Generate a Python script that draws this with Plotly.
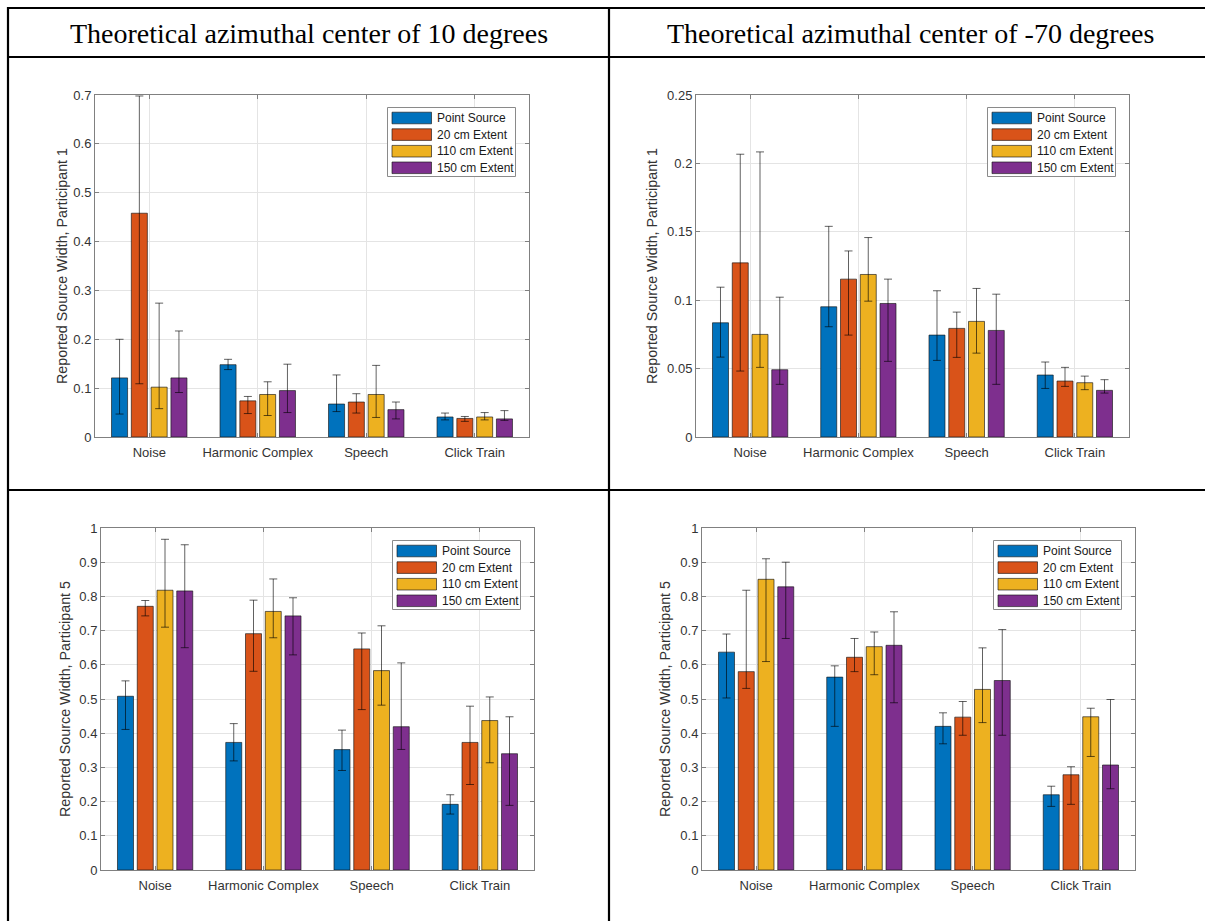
import plotly.graph_objects as go

W, H = 1205, 921

categories = ["Noise", "Harmonic Complex", "Speech", "Click Train"]
series_names = ["Point Source", "20 cm Extent", "110 cm Extent", "150 cm Extent"]
colors = ["#0072BD", "#D95319", "#EDB120", "#7E2F8E"]
column_titles = ["Theoretical azimuthal center of 10 degrees",
                 "Theoretical azimuthal center of -70 degrees"]
y_titles = ["Reported Source Width, Participant 1",
            "Reported Source Width, Participant 1",
            "Reported Source Width, Participant 5",
            "Reported Source Width, Participant 5"]

# rows = series (Point Source, 20 cm, 110 cm, 150 cm); columns = categories
# Panel 1: 10 degrees, Participant 1
p1_mean = [[0.121, 0.148, 0.0675, 0.041],
           [0.458, 0.074, 0.0716, 0.038],
           [0.102, 0.087, 0.087, 0.041],
           [0.121, 0.095, 0.056, 0.037]]
p1_low = [[0.047, 0.138, 0.052, 0.035],
          [0.109, 0.048, 0.049, 0.032],
          [0.058, 0.044, 0.040, 0.035],
          [0.091, 0.050, 0.037, 0.034]]
p1_high = [[0.200, 0.159, 0.127, 0.049],
           [0.698, 0.083, 0.0886, 0.042],
           [0.274, 0.113, 0.1466, 0.050],
           [0.217, 0.149, 0.0716, 0.054]]

# Panel 2: -70 degrees, Participant 1
p2_mean = [[0.0835, 0.0952, 0.0745, 0.0453],
           [0.1273, 0.1154, 0.0794, 0.0409],
           [0.0750, 0.1188, 0.0845, 0.0397],
           [0.0492, 0.0976, 0.0779, 0.0341]]
p2_low = [[0.0584, 0.0806, 0.0560, 0.0355],
          [0.0482, 0.0745, 0.0582, 0.0370],
          [0.0509, 0.0993, 0.0613, 0.0346],
          [0.0385, 0.0553, 0.0385, 0.0321]]
p2_high = [[0.1095, 0.1540, 0.1069, 0.0548],
           [0.2067, 0.1360, 0.0913, 0.0509],
           [0.2084, 0.1458, 0.1086, 0.0445],
           [0.1022, 0.1154, 0.1044, 0.0419]]

# Panel 3: 10 degrees, Participant 5
p3_mean = [[0.508, 0.373, 0.352, 0.192],
           [0.771, 0.691, 0.6465, 0.373],
           [0.818, 0.756, 0.583, 0.437],
           [0.816, 0.743, 0.419, 0.340]]
p3_low = [[0.411, 0.319, 0.291, 0.1636],
          [0.743, 0.581, 0.469, 0.250],
          [0.710, 0.679, 0.482, 0.3135],
          [0.650, 0.629, 0.3525, 0.189]]
p3_high = [[0.553, 0.428, 0.409, 0.220],
           [0.788, 0.789, 0.693, 0.479],
           [0.967, 0.851, 0.714, 0.506],
           [0.951, 0.796, 0.6056, 0.448]]

# Panel 4: -70 degrees, Participant 5
p4_mean = [[0.637, 0.564, 0.420, 0.220],
           [0.580, 0.622, 0.447, 0.2785],
           [0.850, 0.653, 0.528, 0.448],
           [0.828, 0.657, 0.554, 0.307]]
p4_low = [[0.503, 0.420, 0.369, 0.186],
          [0.531, 0.580, 0.394, 0.192],
          [0.6095, 0.571, 0.431, 0.332],
          [0.677, 0.489, 0.394, 0.2376]]
p4_high = [[0.690, 0.597, 0.4596, 0.245],
           [0.818, 0.677, 0.4927, 0.302],
           [0.910, 0.696, 0.6495, 0.473],
           [0.900, 0.755, 0.703, 0.4985]]

y_ranges = [[0, 0.7], [0, 0.25], [0, 1], [0, 1]]
y_dticks = [0.1, 0.05, 0.1, 0.1]

panel_data = [(p1_mean, p1_low, p1_high), (p2_mean, p2_low, p2_high),
              (p3_mean, p3_low, p3_high), (p4_mean, p4_low, p4_high)]

# plot-area boxes in pixels: (left, right, top, bottom)
boxes = [(95, 529, 95, 437), (696, 1129, 95, 437),
         (101, 534, 528, 870), (702, 1135, 528, 870)]


def px(x):
    return x / W


def py(y):
    return 1 - y / H


FONT = "Liberation Sans, Arial, Helvetica, sans-serif"
AXIS_COLOR = "#808080"
TEXT_COLOR = "#333333"
GRID_COLOR = "#e4e4e4"

fig = go.Figure()
layout = dict(
    width=W, height=H,
    margin=dict(l=0, r=0, t=0, b=0, pad=0, autoexpand=False),
    paper_bgcolor="white", plot_bgcolor="white",
    barmode="group", bargap=0.27, bargroupgap=0.19,
    showlegend=False,
    font=dict(family=FONT, size=13, color=TEXT_COLOR),
)

shapes = []
annotations = []

for i, (means, lows, highs) in enumerate(panel_data):
    sfx = "" if i == 0 else str(i + 1)
    xa, ya = "x" + sfx, "y" + sfx
    for s in range(4):
        m = means[s]
        fig.add_trace(go.Bar(
            x=categories, y=m, name=series_names[s],
            xaxis=xa, yaxis=ya,
            marker=dict(color=colors[s], line=dict(color="rgba(20,20,20,0.8)", width=0.8)),
            error_y=dict(type="data", symmetric=False,
                         array=[h - v for h, v in zip(highs[s], m)],
                         arrayminus=[v - lo for v, lo in zip(m, lows[s])],
                         color="rgba(0,0,0,0.62)", thickness=1, width=4),
            showlegend=False,
        ))
    l, r, t, b = boxes[i]
    layout["xaxis" + sfx] = dict(
        domain=[px(l), px(r)], anchor=ya,
        type="category", categoryorder="array", categoryarray=categories,
        range=[-0.5, 3.5],
        showline=True, linecolor=AXIS_COLOR, linewidth=1, mirror="ticks",
        ticks="inside", ticklen=4, tickcolor=AXIS_COLOR,
        showgrid=True, gridcolor=GRID_COLOR, gridwidth=1,
        tickfont=dict(family=FONT, size=13, color=TEXT_COLOR),
        ticklabelstandoff=3,
        fixedrange=True, automargin=False,
    )
    layout["yaxis" + sfx] = dict(
        domain=[py(b), py(t)], anchor=xa,
        range=y_ranges[i], dtick=y_dticks[i], tick0=0,
        showline=True, linecolor=AXIS_COLOR, linewidth=1, mirror="ticks",
        ticks="inside", ticklen=4, tickcolor=AXIS_COLOR,
        showgrid=True, gridcolor=GRID_COLOR, gridwidth=1, zeroline=False,
        tickfont=dict(family=FONT, size=13, color=TEXT_COLOR),
        fixedrange=True, automargin=False,
    )
    # y-axis title
    title_x = [62, 652, 65, 665][i]
    annotations.append(dict(
        text=y_titles[i], xref="paper", yref="paper",
        x=px(title_x), y=py((t + b) / 2), xanchor="center", yanchor="middle",
        textangle=-90, showarrow=False,
        font=dict(family=FONT, size=14.3, color=TEXT_COLOR)))
    # legend box (MATLAB style)
    bx1 = r - 13.5
    bx0 = bx1 - 128
    by0 = t + 12.5
    by1 = by0 + 69
    shapes.append(dict(type="rect", xref="paper", yref="paper",
                       x0=px(bx0), x1=px(bx1), y0=py(by1), y1=py(by0),
                       line=dict(color="#8a8a8a", width=1), fillcolor="white", layer="above"))
    for s in range(4):
        cy = by0 + 10.5 + s * 16.6
        shapes.append(dict(type="rect", xref="paper", yref="paper",
                           x0=px(bx0 + 4.5), x1=px(bx0 + 44),
                           y0=py(cy + 5.8), y1=py(cy - 5.8),
                           line=dict(color="rgba(20,20,20,0.8)", width=0.8),
                           fillcolor=colors[s], layer="above"))
        annotations.append(dict(
            text=series_names[s], xref="paper", yref="paper",
            x=px(bx0 + 47), y=py(cy), xanchor="left", yanchor="middle",
            showarrow=False, font=dict(family=FONT, size=12, color="#1a1a1a")))

# table borders
LW = 2.2
line = dict(color="black", width=LW)
shapes += [
    dict(type="line", xref="paper", yref="paper", x0=px(7), x1=1, y0=py(8), y1=py(8), line=line),
    dict(type="line", xref="paper", yref="paper", x0=px(7), x1=1, y0=py(57), y1=py(57), line=line),
    dict(type="line", xref="paper", yref="paper", x0=px(7), x1=1, y0=py(490), y1=py(490), line=line),
    dict(type="line", xref="paper", yref="paper", x0=px(8), x1=px(8), y0=py(7), y1=0, line=line),
    dict(type="line", xref="paper", yref="paper", x0=px(609), x1=px(609), y0=py(7), y1=0, line=line),
]

# column headers
for j, (title, cx) in enumerate(zip(column_titles, [308.5, 910])):
    annotations.append(dict(
        text=title, xref="paper", yref="paper", x=px(cx), y=py(33),
        xanchor="center", yanchor="middle", showarrow=False,
        font=dict(family="Liberation Serif, Times New Roman, serif", size=28, color="black")))

layout["shapes"] = shapes
layout["annotations"] = annotations
fig.update_layout(**layout)
fig.write_html("out.html", config={"responsive": False})
